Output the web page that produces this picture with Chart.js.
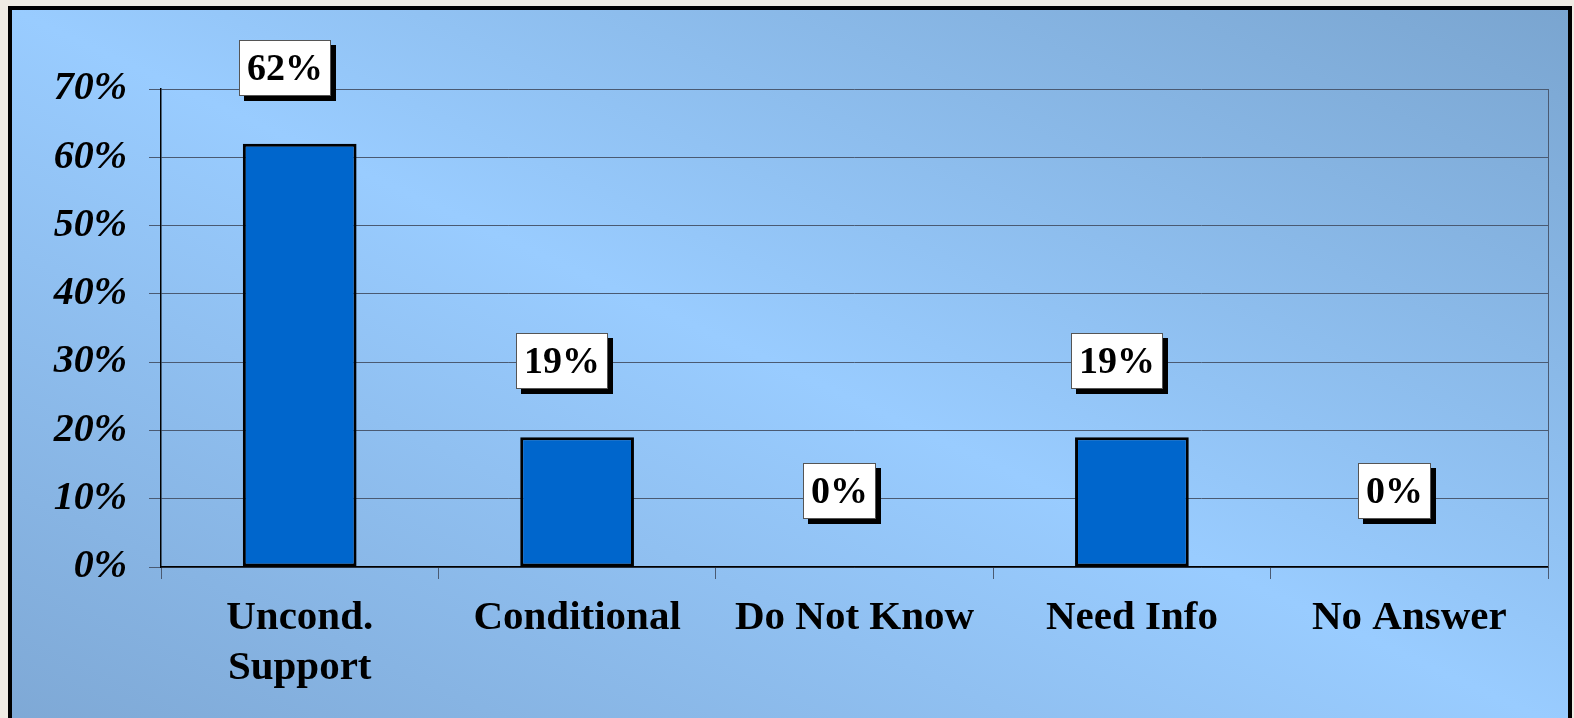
<!DOCTYPE html>
<html>
<head>
<meta charset="utf-8">
<script src="https://cdn.jsdelivr.net/npm/chart.js@4/dist/chart.umd.min.js"></script>
<style>
  html, body { margin: 0; padding: 0; background: #efebe3; overflow: hidden; }
  #panel {
    position: absolute; left: 8px; top: 6px;
    width: 1556px; height: 720px;
    border: 4px solid #000; border-bottom: none;
    background: linear-gradient(to top right, #7ea8d5 0%, #99ccff 50%, #7aa5d0 100%);
  }
  canvas { display: block; }
</style>
</head>
<body>
<div id="panel"><canvas id="chart" width="1556" height="708"></canvas></div>
<script>
const categories = [['Uncond.', 'Support'], 'Conditional', 'Do Not Know', 'Need Info', 'No Answer'];
const percentValues = [62, 19, 0, 19, 0];
const valueLabels = ['62%', '19%', '0%', '19%', '0%'];

const serif = '"Liberation Serif", "Times New Roman", serif';
const gridColor = '#4a5a72';

// white boxes with a black drop shadow above every bar
const boxLabels = {
    id: 'boxLabels',
    afterDatasetsDraw(chart) {
        const ctx = chart.ctx;
        const area = chart.chartArea;
        ctx.save();
        // right edge of the plot frame
        ctx.strokeStyle = gridColor;
        ctx.lineWidth = 1;
        ctx.beginPath();
        ctx.moveTo(area.right + 0.5, area.top);
        ctx.lineTo(area.right + 0.5, area.bottom);
        ctx.stroke();

        ctx.font = 'bold 38px ' + serif;
        ctx.textAlign = 'center';
        ctx.textBaseline = 'middle';
        chart.getDatasetMeta(0).data.forEach((bar, i) => {
            const text = valueLabels[i];
            const w = ctx.measureText(text).width + 16;
            const h = 56;
            const cx = bar.x - 15;
            const cy = bar.y - 76;
            const x = Math.round(cx - w / 2);
            const y = Math.round(cy - h / 2);
            ctx.fillStyle = '#000';
            ctx.fillRect(x + 5, y + 5, w, h);
            ctx.fillStyle = '#fff';
            ctx.fillRect(x, y, w, h);
            ctx.strokeStyle = '#555';
            ctx.lineWidth = 1;
            ctx.strokeRect(x + 0.5, y + 0.5, w - 1, h - 1);
            ctx.fillStyle = '#000';
            ctx.fillText(text, x + w / 2, y + h / 2 + 2);
        });
        ctx.restore();
    }
};

new Chart(document.getElementById('chart'), {
    type: 'bar',
    data: {
        labels: categories,
        datasets: [{
            data: percentValues,
            backgroundColor: '#0066cc',
            borderColor: '#000',
            borderWidth: 3,
            borderSkipped: false,
            categoryPercentage: 1,
            barPercentage: 0.41
        }]
    },
    options: {
        responsive: false,
        animation: false,
        devicePixelRatio: 1,
        layout: { padding: { left: 0, top: 79, right: 20, bottom: 0 } },
        plugins: {
            legend: { display: false },
            tooltip: { enabled: false }
        },
        scales: {
            x: {
                afterFit(scale) { scale.height = 151; },
                grid: {
                    offset: true,
                    drawOnChartArea: false,
                    drawTicks: true,
                    tickLength: 12,
                    color: gridColor
                },
                border: { color: '#000', width: 1.5 },
                ticks: {
                    color: '#000',
                    padding: 14,
                    maxRotation: 0,
                    autoSkip: false,
                    font: { family: serif, size: 41, weight: 'bold', lineHeight: 1.22 }
                }
            },
            y: {
                min: 0,
                max: 70,
                afterFit(scale) { scale.width = 149; },
                grid: {
                    drawTicks: true,
                    tickLength: 12,
                    color: gridColor
                },
                border: { color: '#000', width: 1.5 },
                ticks: {
                    stepSize: 10,
                    color: '#000',
                    padding: 22,
                    font: { family: serif, size: 40, weight: 'bold', style: 'italic' },
                    callback: v => v + '%'
                }
            }
        }
    },
    plugins: [boxLabels]
});
</script>
</body>
</html>
